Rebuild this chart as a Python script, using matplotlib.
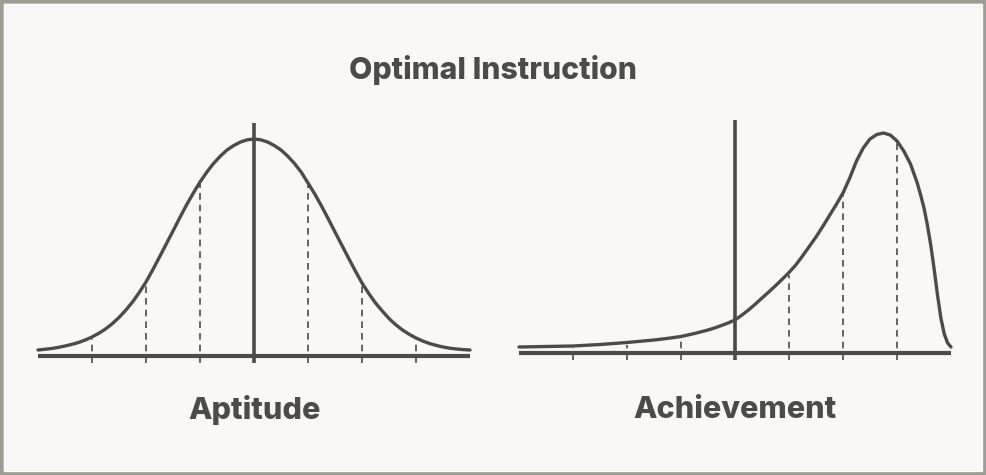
import numpy as np
import matplotlib
matplotlib.use("Agg")
import matplotlib.pyplot as plt
from matplotlib.patches import Rectangle

# curve heights (px above the baseline),
# x in units of the dashed-line spacing, 0 = solid vertical line
apt_x = [i / 8 for i in range(-32, 33)]
apt_y = [6, 6.7, 7.5, 8.6, 10, 11.6, 13.5, 16, 19, 22.7, 27, 32.3, 38.5, 45.8,
         54, 63.5, 74, 86.2, 99, 112, 125, 138.2, 151, 162.8, 174, 183.8, 192.5,
         199.8, 206, 210.5, 214, 216.2, 217,
         216.2, 214, 210.5, 206, 199.8, 192.5, 183.8, 173, 162, 150, 137.2, 124,
         111, 98, 85.2, 73, 62.5, 53, 45, 37.5, 31.3, 26, 21.7, 18, 15, 12.5,
         10.6, 9, 7.8, 7, 6.4, 6]

ach_x = [-4.0, -3.5, -3.0, -2.5, -2.0, -1.5, -1.25, -1.0, -0.75, -0.5, -0.375,
         -0.25, -0.125, 0.0,
         0.125, 0.25, 0.375, 0.5, 0.625, 0.75, 0.875, 1.0, 1.125, 1.25, 1.375,
         1.5, 1.625, 1.75, 1.875, 2.0, 2.125, 2.25, 2.375, 2.5, 2.625, 2.75,
         2.875, 3.0, 3.125, 3.25, 3.375, 3.4375, 3.5, 3.5625, 3.625, 3.6875,
         3.75, 3.8125, 3.875, 3.9375, 4.0]
ach_y = [6, 6.5, 7, 8.5, 10.5, 13, 14.6, 16.5, 19.5, 23, 25.1,
         27.5, 30.1, 33,
         37.8, 43, 48.8, 55, 61, 67.3, 73.8, 80.5, 88, 97, 106.5,
         116, 126.5, 137.5, 148.5, 160, 175, 192, 205, 214, 218.5, 220,
         218, 212, 202, 189, 170, 158, 145, 128, 108, 84,
         58, 35, 19, 10, 6]

dash_x = [-3, -2, -1, 1, 2, 3]

title = "Optimal Instruction"
labels = ["Aptitude", "Achievement"]

W, H = 986, 475
ink = "#4b4b49"
bg = "#f9f8f6"

fig = plt.figure(figsize=(W / 100, H / 100), dpi=100, facecolor=bg)

# border
fig.patches.append(Rectangle((0, 0), 1, 1, transform=fig.transFigure,
                             fill=False, edgecolor="#9d9d95", linewidth=5.4))
fig.patches.append(Rectangle((3.8 / W, 3.8 / H), 1 - 7.6 / W, 1 - 7.6 / H,
                             transform=fig.transFigure, fill=False,
                             edgecolor="white", linewidth=0.9))

unit = 54.0
font = ["Inter", "DejaVu Sans"]


def panel(cx, base, xs, ys, label):
    x0, x1, ytop, ybot = cx - 234, cx + 234, 100, 380
    ax = fig.add_axes([x0 / W, (H - ybot) / H, (x1 - x0) / W, (ybot - ytop) / H])
    ax.set_xlim((x0 - cx) / unit, (x1 - cx) / unit)
    ax.set_ylim(base - ybot, base - ytop)
    ax.axis("off")

    for d in dash_x:
        top = np.interp(d, xs, ys) - 2
        ax.plot([d, d], [-6.5, top], color=ink, lw=1.2, ls=(0, (4, 3)),
                solid_capstyle="butt")
    ax.plot([-4, 4], [0, 0], color=ink, lw=3.0, solid_capstyle="butt")
    ax.plot([0, 0], [-7, 233], color=ink, lw=2.6, solid_capstyle="butt")
    ax.plot(xs, ys, color=ink, lw=2.4, solid_capstyle="round",
            solid_joinstyle="round")
    fig.text(cx / W, 1 - 410 / H, label, ha="center", va="center",
             fontsize=22, fontweight=800, family=font, color=ink)
    return ax


panel(254, 356, apt_x, apt_y, labels[0])
panel(735, 353, ach_x, ach_y, labels[1])

fig.text(493 / W, 1 - 70 / H, title, ha="center", va="center", fontsize=21.7,
         fontweight=800, family=font, color=ink)

fig.savefig("out.png", dpi=100, facecolor=bg)
